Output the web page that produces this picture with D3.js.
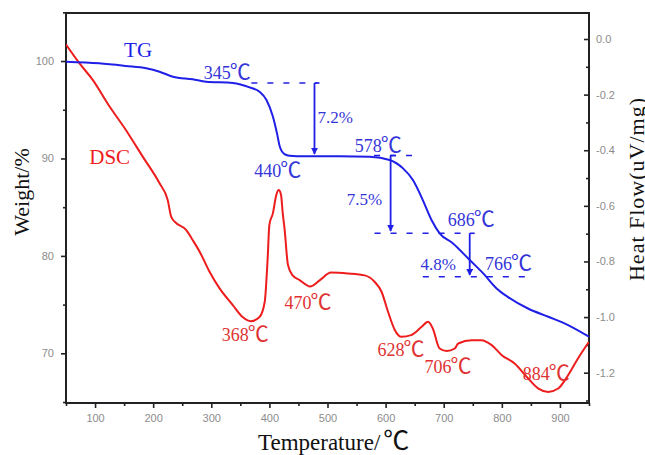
<!DOCTYPE html>
<html>
<head>
<meta charset="utf-8">
<script src="https://cdn.jsdelivr.net/npm/d3@7"></script>
<style>
  body { margin: 0; background: #fff; }
  svg text { font-family: "Liberation Serif", "Times New Roman", serif; }
  .tick text { font-family: "Liberation Sans", Arial, sans-serif; font-size: 11px; fill: #8c8c8c; }
  .cel { font-family: "Noto Sans CJK SC", "DejaVu Sans", sans-serif; }
</style>
</head>
<body>
<div id="chart"></div>
<script>
// temperature (C) vs weight %
var tgData = [[50,99.93],[107,99.76],[153,99.49],[188,99.25],[211,98.9],[234,98.39],[268,98.12],[291,97.88],
  [337,97.75],[366,97.3],[383,96.85],[395,96.0],[406,94.3],[413,92.6],[418,91.2],[426,90.45],[435,90.28],
  [460,90.22],[520,90.22],[573,90.17],[607,89.84],[630,88.98],[647,87.78],[664,85.73],[679,83.68],
  [693,82.31],[716,81.28],[745,79.56],[768,78.2],[791,76.66],[810,75.8],[845,74.6],[880,73.75],
  [914,72.9],[950,71.7]];

// temperature (C) vs heat flow uV/mg
var dscData = [[50,-0.02],[73,-0.087],[96,-0.147],[125,-0.243],[153,-0.327],[182,-0.423],[211,-0.519],
  [225,-0.579],[231,-0.639],[237,-0.657],[257,-0.687],[268,-0.723],[280,-0.765],[297,-0.837],
  [314,-0.896],[337,-0.957],[354,-1.0],[368,-1.015],[383,-1.0],[392,-0.945],[397,-0.79],[400,-0.668],
  [406,-0.627],[412,-0.56],[416,-0.543],[420,-0.56],[423,-0.627],[426,-0.68],[432,-0.813],[440,-0.85],
  [452,-0.867],[470,-0.89],[487,-0.867],[506,-0.84],[535,-0.843],[564,-0.85],[581,-0.873],[593,-0.909],
  [604,-0.98],[616,-1.047],[627,-1.071],[644,-1.065],[662,-1.035],[673,-1.017],[681,-1.04],[693,-1.113],
  [705,-1.122],[719,-1.113],[725,-1.095],[748,-1.083],[765,-1.083],[782,-1.1],[800,-1.137],[822,-1.167],
  [845,-1.22],[863,-1.257],[880,-1.269],[897,-1.257],[914,-1.209],[931,-1.149],[950,-1.089]];

var xTicks = [100,200,300,400,500,600,700,800,900];
var xMinor = [50,150,250,350,450,550,650,750,850,950];
var wTicks = [70,80,90,100];
var wMinor = [65,75,85,95,105];
var hTicks = [0,-0.2,-0.4,-0.6,-0.8,-1.0,-1.2];
var hMinor = [-0.1,-0.3,-0.5,-0.7,-0.9,-1.1,-1.3];

// annotation anchors, in data units [T, value, text]
var tgLabels = [[150,100.4,"TG"]];
var tgTemps = [[287,98.15,"345"],[374,88.1,"440"],[547,90.66,"578"],[707,83.07,"686"],[771,78.55,"766"]];
var tgLoss = [[483,93.64,"7.2%"],[533,85.22,"7.5%"],[660,78.55,"4.8%"]];
var tgDashes = [[369,483,97.74],[580,648,90.3],[581,742,82.32],[664,848,77.86]];
var tgArrows = [[477.6,97.74,90.25],[608.6,90.3,82.35],[744.7,82.32,77.83]];
var dscLabels = [[90,-0.45,"DSC"]];
var dscTemps = [[318,-1.086,"368"],[426,-0.971,"470"],[586,-1.14,"628"],[667,-1.201,"706"],[836,-1.226,"884"]];

var W = 645, H = 455;
var padL = 66, padR = 589, padT = 13, padB = 403;
var blue = "#1f1fe8", red = "#ee1d1d";

var svg = d3.select("#chart").append("svg")
    .attr("width", W)
    .attr("height", H);

svg.append("rect").attr("width", W).attr("height", H).attr("fill", "#fff");

var x = d3.scaleLinear().domain([50, 950]).range([padL, padR]);
var yW = d3.scaleLinear().domain([64.9, 104.93]).range([padB, padT]);
var yH = d3.scaleLinear().domain([-1.309, 0.0935]).range([padB, padT]);

var hFmt = function (d) { return d3.format(".1f")(d).replace("\u2212", "-"); };

// axes
svg.append("g").attr("transform", "translate(0," + padB + ")")
    .call(d3.axisBottom(x).tickValues(xTicks).tickSize(5).tickSizeOuter(0).tickPadding(6));
svg.append("g").attr("transform", "translate(0," + padB + ")")
    .call(d3.axisBottom(x).tickValues(xMinor).tickSize(3).tickFormat(""));
svg.append("g").attr("transform", "translate(" + padL + ",0)")
    .call(d3.axisLeft(yW).tickValues(wTicks).tickSize(5).tickSizeOuter(0).tickPadding(7));
svg.append("g").attr("transform", "translate(" + padL + ",0)")
    .call(d3.axisLeft(yW).tickValues(wMinor).tickSize(3).tickFormat(""));
svg.append("g").attr("transform", "translate(" + padR + ",0)")
    .call(d3.axisRight(yH).tickValues(hTicks).tickSize(-5).tickSizeOuter(0).tickPadding(7).tickFormat(hFmt));
svg.append("g").attr("transform", "translate(" + padR + ",0)")
    .call(d3.axisRight(yH).tickValues(hMinor).tickSize(-3).tickFormat(""));

svg.selectAll(".domain").remove();
svg.selectAll(".tick line").attr("stroke", "#222").attr("stroke-width", 1.6);

svg.append("rect")
    .attr("x", padL).attr("y", padT)
    .attr("width", padR - padL).attr("height", padB - padT)
    .attr("fill", "none").attr("stroke", "#222").attr("stroke-width", 2);

// curves
svg.append("clipPath").attr("id", "plot").append("rect")
    .attr("x", padL).attr("y", padT).attr("width", padR - padL).attr("height", padB - padT);

svg.append("path")
    .datum(dscData)
    .attr("clip-path", "url(#plot)")
    .attr("fill", "none").attr("stroke", red).attr("stroke-width", 2)
    .attr("d", d3.line().x(function (d) { return x(d[0]); }).y(function (d) { return yH(d[1]); }).curve(d3.curveMonotoneX));

svg.append("path")
    .datum(tgData)
    .attr("clip-path", "url(#plot)")
    .attr("fill", "none").attr("stroke", blue).attr("stroke-width", 2)
    .attr("d", d3.line().x(function (d) { return x(d[0]); }).y(function (d) { return yW(d[1]); }).curve(d3.curveMonotoneX));

// dashed levels and arrows
svg.append("defs").append("marker")
    .attr("id", "head").attr("viewBox", "0 0 10 10")
    .attr("refX", 9).attr("refY", 5)
    .attr("markerWidth", 4).attr("markerHeight", 4)
    .attr("orient", "auto")
    .append("path").attr("d", "M0,0L10,5L0,10z").attr("fill", blue);

svg.selectAll(".dash").data(tgDashes).enter().append("line")
    .attr("x1", function (d) { return x(d[0]); })
    .attr("x2", function (d) { return x(d[1]); })
    .attr("y1", function (d) { return yW(d[2]); })
    .attr("y2", function (d) { return yW(d[2]); })
    .attr("stroke", blue).attr("stroke-width", 1.6)
    .attr("stroke-dasharray", "6,10");

svg.selectAll(".arrow").data(tgArrows).enter().append("line")
    .attr("x1", function (d) { return x(d[0]); })
    .attr("x2", function (d) { return x(d[0]); })
    .attr("y1", function (d) { return yW(d[1]); })
    .attr("y2", function (d) { return yW(d[2]) - 2; })
    .attr("stroke", blue).attr("stroke-width", 1.8)
    .attr("marker-end", "url(#head)");

svg.selectAll(".stub").data(tgArrows).enter().append("line")
    .attr("x1", function (d) { return x(d[0]); })
    .attr("x2", function (d) { return x(d[0]) + 5; })
    .attr("y1", function (d) { return yW(d[1]); })
    .attr("y2", function (d) { return yW(d[1]); })
    .attr("stroke", blue).attr("stroke-width", 1.6);

// labels
function tempLabel(sel, color) {
    sel.attr("fill", color).attr("font-size", 18);
    sel.append("tspan").text(function (d) { return d[2]; });
    sel.append("tspan").attr("class", "cel").attr("font-size", 21).attr("dx", -1).text("\u2103");
}

svg.selectAll(".tgt").data(tgTemps).enter().append("text")
    .attr("x", function (d) { return x(d[0]); })
    .attr("y", function (d) { return yW(d[1]); })
    .call(tempLabel, "#3535d8");

svg.selectAll(".dsct").data(dscTemps).enter().append("text")
    .attr("x", function (d) { return x(d[0]); })
    .attr("y", function (d) { return yH(d[1]); })
    .call(tempLabel, "#e03232");

svg.selectAll(".loss").data(tgLoss).enter().append("text")
    .attr("x", function (d) { return x(d[0]); })
    .attr("y", function (d) { return yW(d[1]); })
    .attr("fill", "#3535d8").attr("font-size", 17)
    .text(function (d) { return d[2]; });

svg.selectAll(".tgname").data(tgLabels).enter().append("text")
    .attr("x", function (d) { return x(d[0]); })
    .attr("y", function (d) { return yW(d[1]); })
    .attr("fill", blue).attr("font-size", 21)
    .text(function (d) { return d[2]; });

svg.selectAll(".dscname").data(dscLabels).enter().append("text")
    .attr("x", function (d) { return x(d[0]); })
    .attr("y", function (d) { return yH(d[1]); })
    .attr("fill", red).attr("font-size", 21)
    .text(function (d) { return d[2]; });

// axis titles
svg.append("text")
    .attr("transform", "translate(29,192) rotate(-90)")
    .attr("text-anchor", "middle").attr("font-size", 22).attr("fill", "#111")
    .text("Weight/%");

svg.append("text")
    .attr("transform", "translate(644,189) rotate(-90)")
    .attr("text-anchor", "middle").attr("font-size", 22).attr("fill", "#111")
    .attr("letter-spacing", 1)
    .text("Heat Flow(uV/mg)");

var xt = svg.append("text")
    .attr("x", 258).attr("y", 450)
    .attr("font-size", 23).attr("fill", "#111");
xt.append("tspan").text("Temperature/");
xt.append("tspan").attr("class", "cel").attr("font-size", 26).attr("dx", 3).text("\u2103");
</script>
</body>
</html>
